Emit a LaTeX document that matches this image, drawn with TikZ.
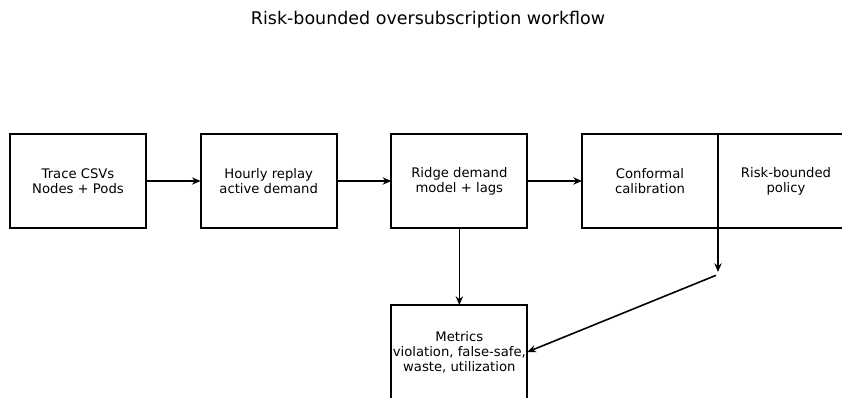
\documentclass[tikz,border=0pt]{standalone}
\usepackage{fontspec}
\setmainfont{DejaVu Sans}
\usepackage{tikz}
\usetikzlibrary{arrows.meta,calc,positioning}

\begin{document}
\begin{tikzpicture}[
  node distance=41pt,
  font=\fontsize{9.9}{11.3}\selectfont,
  stage/.style={draw, line width=1.5pt, align=center, minimum width=102pt, minimum height=70.5pt, inner sep=0pt, outer sep=0pt},
  arrow/.style={-{Stealth[length=6.5pt,width=5.5pt]}, line width=1.2pt}
]
\useasboundingbox (-58.5pt,-162.75pt) rectangle (573pt,135.75pt);
\node[font=\fontsize{13.1}{15}\selectfont] (title) at (262.5pt,120.75pt) {Risk-bounded oversubscription workflow};
\node[stage] (trace) at (0,0) {Trace CSVs\\Nodes + Pods};
\node[stage, right=of trace] (replay) {Hourly replay\\active demand};
\node[stage, right=of replay] (ridge) {Ridge demand\\model + lags};
\node[stage, right=of ridge] (conformal) {Conformal\\calibration};
\node[stage, right=0pt of conformal] (policy) {Risk-bounded\\policy};
\node[stage, below=57.75pt of ridge] (metrics) {Metrics\\violation, false-safe,\\waste, utilization};
\coordinate (tap) at ($(policy.south west)+(0,-33pt)$);
\draw[arrow] (trace) -- (replay);
\draw[arrow] (replay) -- (ridge);
\draw[arrow] (ridge) -- (conformal);
\draw[arrow] (ridge) -- (metrics);
\draw[arrow] (policy.south west) -- (tap);
\draw[arrow] ([xshift=-1.5pt,yshift=-2.5pt]tap) -- (metrics.east);
\end{tikzpicture}
\end{document}
